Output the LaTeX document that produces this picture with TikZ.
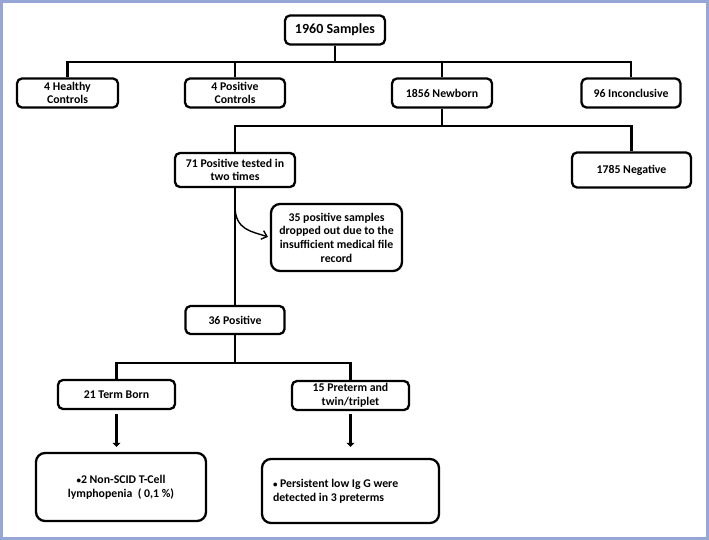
\documentclass[tikz,border=0pt]{standalone}
\usepackage{fontspec}
\setmainfont{Carlito}
\usetikzlibrary{arrows.meta,positioning}
\definecolor{framecol}{RGB}{150,166,214}

\begin{document}
\begin{tikzpicture}[x=1pt,y=-1pt,
    main node/.style={draw,line width=2.3pt,rounded corners=5pt,align=center,inner sep=2pt,
      font=\bfseries\fontsize{11.8}{13.6}\selectfont,minimum height=29pt},
    big node/.style={main node,rounded corners=9pt},
    link/.style={line width=2.2pt},
    thin arrow/.style={line width=1.4pt,-{Straight Barb[length=5pt,width=9pt]}},
    down arrow/.style={line width=3pt,-{Triangle[width=8pt,length=4pt]}}]
    \useasboundingbox (0,0) rectangle (709,540);
    \draw[framecol,line width=2.5pt] (1.5,1.5) rectangle (707.5,538.5);

    \node[main node,minimum width=100pt,font=\bfseries\fontsize{14}{16}\selectfont] (samples) at (335,30) {1960 Samples};
    \node[main node,minimum width=101pt] (healthy) at (67.5,93) {4 Healthy\\Controls};
    \node[main node,minimum width=100pt] (posctrl) at (235,93) {4 Positive\\Controls};
    \node[main node,minimum width=100pt] (newborn) at (442,93) {1856 Newborn};
    \node[main node,minimum width=99pt] (inconcl) at (631,93) {96 Inconclusive};
    \node[main node,minimum width=120pt,minimum height=34pt] (pos71) at (235,170) {71 Positive tested in\\two times};
    \node[main node,minimum width=119pt,minimum height=35pt] (negative) at (631.5,170) {1785 Negative};
    \node[big node,minimum width=131pt,minimum height=67pt] (dropped) at (336.5,237.5) {35 positive samples\\dropped out due to the\\insufficient medical file\\record};
    \node[main node,minimum width=99pt,minimum height=28pt] (pos36) at (235,320) {36 Positive};
    \node[main node,minimum width=117pt] (term) at (116.5,394.5) {21 Term Born};
    \node[main node,minimum width=117pt] (preterm) at (350.5,395.5) {15 Preterm and\\twin/triplet};
    \node[big node,minimum width=170pt,minimum height=68pt] (lympho) at (121,487) {{\small\textbullet}2 Non-SCID T-Cell\\lymphopenia~~( 0,1~\%)};
    \node[big node,text width=155pt,inner xsep=11pt,minimum height=64pt,align=flush left] (igg) at (350.5,491) {{\small\textbullet}\ Persistent low Ig G were\\detected in 3 preterms};

    % first split
    \draw[link] (samples.south) -- ++(0,16.5) -| (healthy.north);
    \draw[link] (samples.south) -- ++(0,16.5) -| (posctrl.north);
    \draw[link] (samples.south) -- ++(0,16.5) -| (newborn.north);
    \draw[link] (samples.south) -- ++(0,16.5) -| (inconcl.north);
    % newborn split
    \draw[link] (newborn.south) -- ++(0,17.5) -| (pos71.north);
    \draw[link] (newborn.south) -- ++(0,17.5) -| (negative.north);
    \draw[link] (pos71) -- (pos36);
    \draw[thin arrow,shorten >=2pt] (pos71.south) ++(0,18) .. controls +(0,24) and +(-18,-6) .. (dropped.west);
    % positive split
    \draw[link] (pos36.south) -- ++(0,28) -| (term.north);
    \draw[link] (pos36.south) -- ++(0,28) -| (preterm.north);
    \draw[down arrow,shorten <=4pt,shorten >=5pt] (term) -- (term |- lympho.north);
    \draw[down arrow,shorten <=3pt,shorten >=11pt] (preterm) -- (preterm |- igg.north);
\end{tikzpicture}
\end{document}
